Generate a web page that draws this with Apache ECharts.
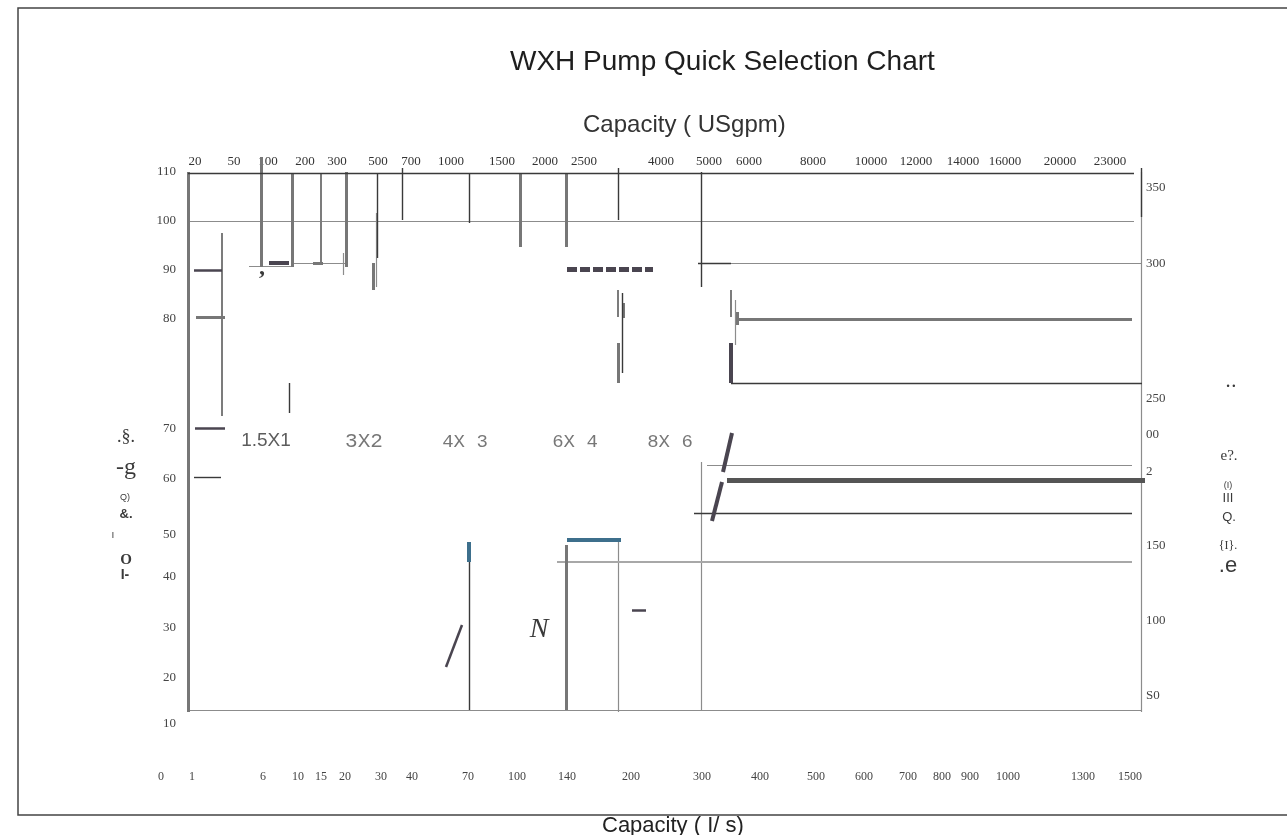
<!DOCTYPE html>
<html>
<head>
<meta charset="utf-8">
<title>WXH Pump Quick Selection Chart</title>
<script src="https://cdn.jsdelivr.net/npm/echarts@6.0.0/dist/echarts.min.js"></script>
<style>
html, body { margin: 0; padding: 0; background: #fff; }
#chart { width: 1287px; height: 835px; }
</style>
</head>
<body>
<div id="chart"></div>
<script>
// chart units: x = position along the capacity scales, y = position along the head scales
// (0,0 is the lower left corner of the plot frame)

// top scale, capacity in US gpm
var gpmLabels = ['20', '50', '100', '200', '300', '500', '700', '1000', '1500', '2000', '2500',
	'4000', '5000', '6000', '8000', '10000', '12000', '14000', '16000', '20000', '23000'];
var gpmPos = [7, 46, 80, 117, 149, 190, 223, 263, 314, 357, 396,
	473, 521, 561, 625, 683, 728, 775, 817, 872, 922];

// bottom scale, capacity in l/s
var lsLabels = ['0', '1', '6', '10', '15', '20', '30', '40', '70', '100', '140', '200',
	'300', '400', '500', '600', '700', '800', '900', '1000', '1300', '1500'];
var lsPos = [-27, 4, 75, 110, 133, 157, 193, 224, 280, 329, 379, 443,
	514, 572, 628, 676, 720, 754, 782, 820, 895, 942];

// left scale, head in m
var headMLabels = ['110', '100', '90', '80', '70', '60', '50', '40', '30', '20', '10'];
var headMPos = [538, 489, 440, 391, 281, 231, 175, 133, 82, 32, -14];

// right scale, head in ft
var headFtLabels = ['350', '300', '250', '00', '2', '150', '100', 'S0'];
var headFtPos = [522, 446, 311, 275, 238, 164, 89, 14];

// pump sizes
var models = ['1.5X1', '3X2', '4X 3', '6X 4', '8X 6'];
var modelX = [78, 176, 277, 387, 482];
var modelY = [269, 269, 268, 268, 268];

// boundary segments [x1, y1, x2, y2], grouped by stroke
var heavyGray = [
	[0, 538, 0, -2], [73, 553, 73, 443], [104, 536, 104, 443], [158, 538, 158, 443],
	[185, 447, 185, 420], [332, 536, 332, 463], [378, 536, 378, 463], [8, 393, 37, 393],
	[125, 447, 135, 447], [435, 407, 435, 392], [430, 367, 430, 327], [549, 398, 549, 385],
	[549, 391, 944, 391], [378, 165, 378, 0]
];
var midGray = [
	[34, 477, 34, 294], [133, 536, 133, 447], [430, 420, 430, 393], [543, 420, 543, 393]
];
var lightGray = [
	[369, 148, 944, 148]
];
var thinGray = [
	[0, 489, 946, 489], [61, 444, 105, 444], [104, 447, 159, 447], [155, 457, 155, 435],
	[188, 497, 188, 423], [510, 447, 954, 447], [519, 245, 944, 245], [0, 0, 953, 0],
	[953, 538, 953, -2], [430, 168, 430, -2], [547, 410, 547, 365], [513, 248, 513, 0]
];
var thinDark = [
	[0, 537, 946, 537], [189, 536, 189, 452], [214, 542, 214, 490], [281, 536, 281, 487],
	[430, 542, 430, 490], [513, 538, 513, 423], [510, 447, 543, 447], [434, 417, 434, 337],
	[543, 327, 954, 327], [506, 197, 944, 197], [281, 148, 281, 0], [101, 327, 101, 297],
	[6, 233, 33, 233], [953, 542, 953, 493]
];
var ink = [
	[6, 440, 34, 440], [7, 282, 37, 282], [274, 85, 258, 43], [444, 100, 458, 100]
];
var inkBold = [
	[81, 447, 101, 447], [544, 277, 535, 238], [534, 228, 524, 189], [543, 367, 543, 327]
];
var dashed = [
	[379, 441, 465, 441]
];
var heavyDark = [
	[539, 230, 957, 230]
];
var blue = [
	[379, 170, 433, 170], [281, 168, 281, 148]
];

// stray glyphs around the chart
var glyphs = [
	{ t: '.§.', x: 126, y: 437, f: '18px "Liberation Serif"' },
	{ t: '-g', x: 126, y: 468, f: '24px "Liberation Serif"' },
	{ t: 'Q)', x: 125, y: 498, f: '9px "Liberation Sans"' },
	{ t: '&.', x: 126, y: 514, f: 'bold 13px "Liberation Sans"' },
	{ t: 'ı', x: 113, y: 535, f: '10px "Liberation Sans"' },
	{ t: 'O', x: 126, y: 560, f: 'bold 15px "Liberation Serif"' },
	{ t: 'I-', x: 125, y: 575, f: 'bold 14px "Liberation Sans"' },
	{ t: '• •', x: 1231, y: 387, f: '9px "Liberation Sans"' },
	{ t: 'e?.', x: 1229, y: 456, f: '15px "Liberation Serif"' },
	{ t: '(I)', x: 1228, y: 486, f: '9px "Liberation Sans"' },
	{ t: 'III', x: 1228, y: 498, f: '13px "Liberation Sans"' },
	{ t: 'Q.', x: 1229, y: 517, f: '13px "Liberation Sans"' },
	{ t: '{I}.', x: 1228, y: 546, f: '12px "Liberation Serif"' },
	{ t: '.e', x: 1228, y: 566, f: '22px "Liberation Sans"' },
	{ t: ',', x: 262, y: 268, f: 'bold 24px "Liberation Serif"' },
	{ t: 'N', x: 539, y: 630, f: 'italic 28px "Liberation Serif"' }
];

function segLines(segs, color, width, type) {
	return {
		type: 'lines',
		coordinateSystem: 'cartesian2d',
		silent: true,
		clip: false,
		lineStyle: { color: color, width: width, type: type || 'solid', opacity: 1, curveness: 0 },
		data: segs.map(function (s) {
			return { coords: [[s[0], s[1]], [s[2], s[3]]] };
		})
	};
}

function lookup(labels, pos) {
	return function (v) {
		var i = pos.indexOf(v);
		return i < 0 ? '' : labels[i];
	};
}

var serif = '"Liberation Serif", "DejaVu Serif", serif';
var sans = '"Liberation Sans", Arial, sans-serif';
var mono = '"Liberation Mono", "DejaVu Sans Mono", monospace';

var hidden = { axisLine: { show: false }, axisTick: { show: false }, splitLine: { show: false } };

function axis(base, extra) {
	var o = {};
	for (var k in hidden) o[k] = hidden[k];
	for (var k2 in base) o[k2] = base[k2];
	for (var k3 in extra) o[k3] = extra[k3];
	return o;
}

var chart = echarts.init(document.getElementById('chart'));

var option = {
	animation: false,
	backgroundColor: '#fff',
	title: [{
		text: 'WXH Pump Quick Selection Chart',
		left: 505,
		top: 43,
		textStyle: { fontFamily: sans, fontSize: 28, fontWeight: 'normal', color: '#1e1e1e' }
	}, {
		text: 'Capacity ( USgpm)',
		left: 578,
		top: 108,
		textStyle: { fontFamily: sans, fontSize: 24, fontWeight: 'normal', color: '#333' }
	}, {
		text: 'Capacity ( I/ s)',
		left: 597,
		top: 810,
		textStyle: { fontFamily: sans, fontSize: 22, fontWeight: 'normal', color: '#222' }
	}],
	grid: { left: 140, right: 146, top: 150, bottom: 35, outerBoundsMode: 'none', containLabel: false },
	xAxis: [
		axis({ type: 'value', min: -48, max: 953 }, {
			position: 'bottom',
			offset: -23,
			axisLabel: {
				customValues: lsPos,
				formatter: lookup(lsLabels, lsPos),
				margin: 0,
				verticalAlign: 'middle',
				fontFamily: serif,
				fontSize: 12,
				color: '#444'
			}
		}),
		axis({ type: 'value', min: -48, max: 953 }, {
			position: 'top',
			offset: -12,
			axisLabel: {
				customValues: gpmPos,
				formatter: lookup(gpmLabels, gpmPos),
				margin: 0,
				verticalAlign: 'middle',
				fontFamily: serif,
				fontSize: 13,
				color: '#333'
			}
		})
	],
	yAxis: [
		axis({ type: 'value', min: -90, max: 560 }, {
			position: 'left',
			offset: -38,
			axisLabel: {
				customValues: headMPos,
				formatter: lookup(headMLabels, headMPos),
				margin: 2,
				fontFamily: serif,
				fontSize: 13,
				color: '#444'
			}
		}),
		axis({ type: 'value', min: -90, max: 560 }, {
			position: 'right',
			axisLabel: {
				customValues: headFtPos,
				formatter: lookup(headFtLabels, headFtPos),
				margin: 5,
				fontFamily: serif,
				fontSize: 13,
				color: '#444'
			}
		})
	],
	graphic: [{
		type: 'polyline',
		silent: true,
		shape: { points: [[1287, 8], [18, 8], [18, 815], [1287, 815]] },
		style: { stroke: '#444', lineWidth: 1.5, fill: null }
	}].concat(glyphs.map(function (g) {
		return {
			type: 'text',
			silent: true,
			style: {
				text: g.t, x: g.x, y: g.y, font: g.f, fill: '#3a3a3a',
				textAlign: 'center', textVerticalAlign: 'middle'
			}
		};
	})),
	series: [
		segLines(thinGray, '#8c8c8c', 1.2),
		segLines(lightGray, '#a8a8a8', 2),
		segLines(midGray, '#7c7c7c', 2),
		segLines(heavyGray, '#777777', 3),
		segLines(thinDark, '#3a3a3a', 1.4),
		segLines(ink, '#4a4550', 2.5),
		segLines(inkBold, '#4a4550', 4),
		segLines(dashed, '#4a4550', 5, [10, 3]),
		segLines(heavyDark, '#555555', 5),
		segLines(blue, '#3d6f8c', 4),
		{
			type: 'scatter',
			silent: true,
			symbolSize: 2,
			itemStyle: { color: 'rgba(0,0,0,0)' },
			data: models.map(function (m, i) {
				return {
					value: [modelX[i], modelY[i]],
					label: {
						show: true,
						position: 'inside',
						formatter: m,
						fontFamily: i === 0 ? sans : mono,
						fontSize: i === 1 ? 21 : 19,
						color: i === 0 ? '#333' : '#555'
					}
				};
			})
		}
	]
};

chart.setOption(option);
</script>
</body>
</html>
